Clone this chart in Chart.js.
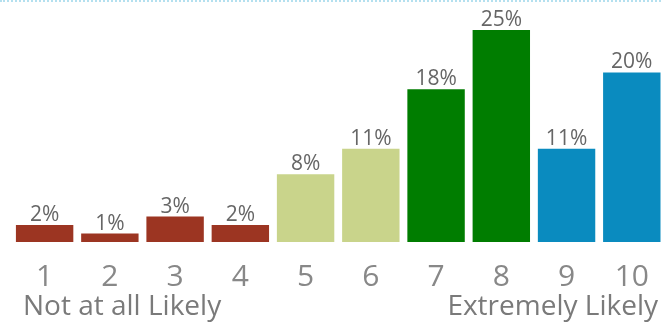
<!DOCTYPE html>
<html>
<head>
<meta charset="utf-8">
<script src="https://cdn.jsdelivr.net/npm/chart.js@4"></script>
<style>
  html, body { margin: 0; padding: 0; background: #fff; overflow: hidden; }
  #wrap { position: relative; width: 666px; height: 328px; }
  #topline { position: absolute; left: 0; top: 0; width: 661px; border-top: 2px dotted #b4e0ef; }
  .anchor { position: absolute; font-family: "Open Sans", sans-serif; font-size: 28px; color: #7a7a7a; line-height: 1; }
  #low { left: 23px; top: 290px; }
  #high { right: 8px; top: 290px; }
</style>
</head>
<body>
<div id="wrap">
  <canvas id="npsChart" width="666" height="328"></canvas>
  <div id="topline"></div>
  <span class="anchor" id="low">Not at all Likely</span>
  <span class="anchor" id="high">Extremely Likely</span>
</div>
<script>
// Score categories and share of responses (%)
const scores = ['1', '2', '3', '4', '5', '6', '7', '8', '9', '10'];
const shares = [2, 1, 3, 2, 8, 11, 18, 25, 11, 20];
const barColors = ['#9c3522', '#9c3522', '#9c3522', '#9c3522',
  '#c9d48b', '#c9d48b', '#007d00', '#007d00', '#0a8bbf', '#0a8bbf'];

// Draw the "xx%" labels above each bar
const valueLabels = {
  id: 'valueLabels',
  afterDatasetsDraw(chart) {
    const ctx = chart.ctx;
    const meta = chart.getDatasetMeta(0);
    ctx.save();
    ctx.font = '21px "Open Sans", sans-serif';
    ctx.fillStyle = '#666';
    ctx.textAlign = 'center';
    ctx.textBaseline = 'alphabetic';
    meta.data.forEach((bar, i) => {
      ctx.fillText(shares[i] + '%', bar.x, bar.y - 4);
    });
    ctx.restore();
  }
};

const ctx = document.getElementById('npsChart').getContext('2d');
new Chart(ctx, {
  type: 'bar',
  data: {
    labels: scores,
    datasets: [{
      data: shares,
      backgroundColor: barColors,
      borderWidth: 0,
      barPercentage: 0.88,
      categoryPercentage: 1
    }]
  },
  options: {
    responsive: false,
    animation: false,
    layout: { padding: { left: 12, right: 1, top: 30, bottom: 16 } },
    scales: {
      y: { display: false, min: 0, max: 25 },
      x: {
        grid: { display: false, drawTicks: false },
        border: { display: false },
        ticks: {
          color: '#888',
          padding: 17,
          font: { family: 'Open Sans', size: 30 }
        }
      }
    },
    plugins: {
      legend: { display: false },
      tooltip: { enabled: false }
    }
  },
  plugins: [valueLabels]
});
</script>
</body>
</html>
